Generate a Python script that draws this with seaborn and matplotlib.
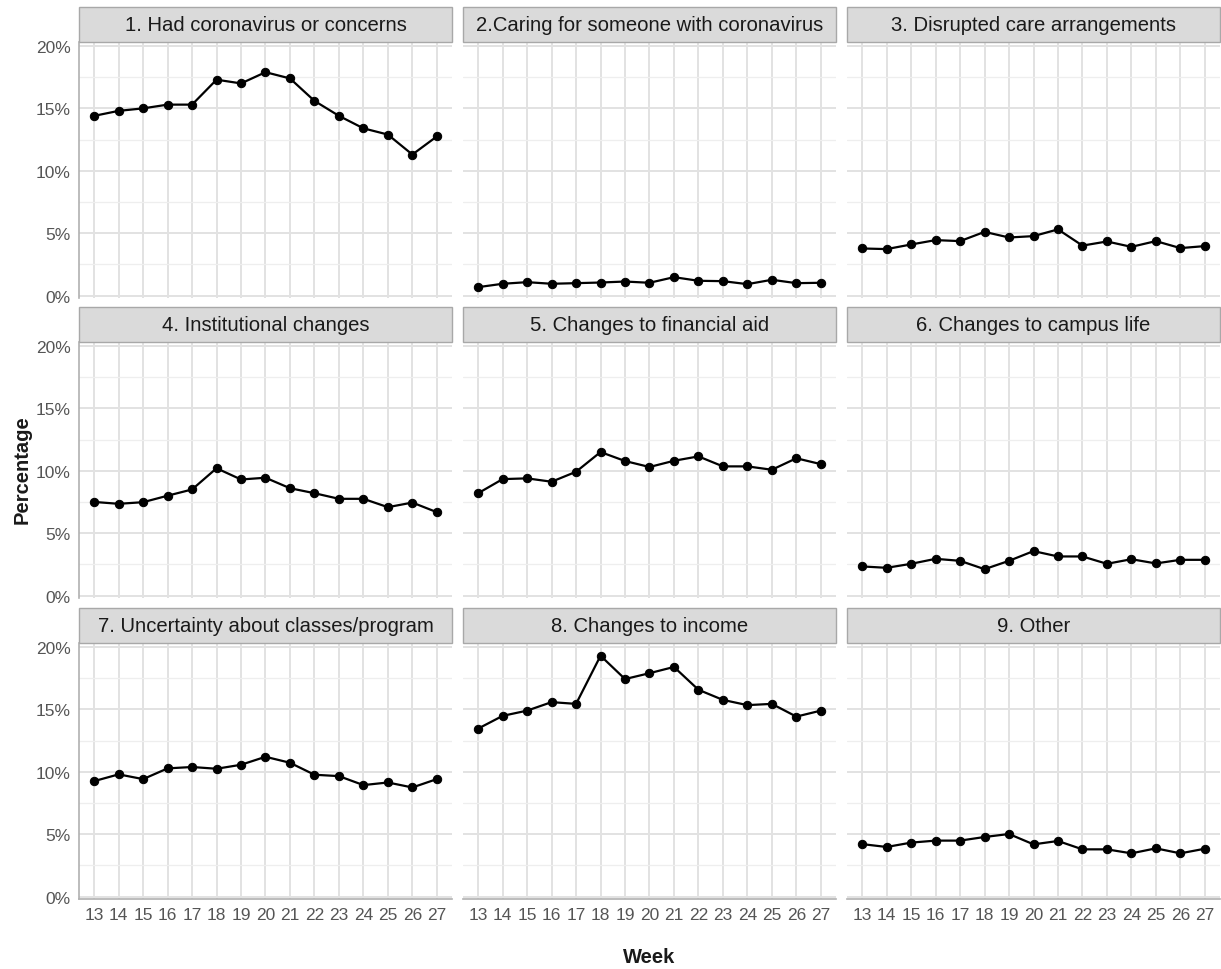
import matplotlib
matplotlib.use("Agg")
import matplotlib.pyplot as plt
from matplotlib.patches import Rectangle
from matplotlib.ticker import FuncFormatter, MultipleLocator
import numpy as np
import pandas as pd
import seaborn as sns

weeks = list(range(13, 28))

categories = [
    "1. Had coronavirus or concerns",
    "2.Caring for someone with coronavirus",
    "3. Disrupted care arrangements",
    "4. Institutional changes",
    "5. Changes to financial aid",
    "6. Changes to campus life",
    "7. Uncertainty about classes/program",
    "8. Changes to income",
    "9. Other",
]

had_coronavirus = [14.4, 14.8, 15.0, 15.3, 15.3, 17.3, 17.0, 17.9, 17.4, 15.6, 14.4, 13.4, 12.9, 11.3, 12.75]
caring = [0.67, 0.94, 1.07, 0.94, 0.99, 1.04, 1.12, 1.02, 1.47, 1.18, 1.15, 0.91, 1.26, 0.99, 1.02]
care_arrangements = [3.77, 3.72, 4.09, 4.44, 4.36, 5.1, 4.65, 4.76, 5.3, 4.0, 4.33, 3.9, 4.36, 3.8, 3.96]
institutional = [7.5, 7.35, 7.48, 8.0, 8.5, 10.2, 9.3, 9.44, 8.6, 8.2, 7.75, 7.75, 7.08, 7.45, 6.68]
financial_aid = [8.2, 9.33, 9.39, 9.12, 9.92, 11.5, 10.78, 10.3, 10.8, 11.15, 10.35, 10.35, 10.08, 11.0, 10.53]
campus_life = [2.33, 2.22, 2.54, 2.94, 2.78, 2.11, 2.78, 3.56, 3.13, 3.13, 2.54, 2.91, 2.57, 2.86, 2.86]
uncertainty = [9.25, 9.79, 9.41, 10.27, 10.38, 10.24, 10.56, 11.2, 10.72, 9.76, 9.65, 8.93, 9.14, 8.74, 9.41]
income = [13.46, 14.48, 14.9, 15.58, 15.44, 19.3, 17.43, 17.9, 18.4, 16.57, 15.76, 15.34, 15.44, 14.42, 14.9]
other = [4.2, 3.97, 4.32, 4.48, 4.48, 4.77, 5.01, 4.18, 4.45, 3.78, 3.78, 3.46, 3.86, 3.46, 3.83]

series = [had_coronavirus, caring, care_arrangements, institutional, financial_aid,
          campus_life, uncertainty, income, other]

df = pd.DataFrame({
    "Week": weeks * len(categories),
    "Percentage": [v for s in series for v in s],
    "Category": [c for c in categories for _ in weeks],
})

sns.set_theme(style="white")
plt.rcParams["font.family"] = ["Liberation Sans", "DejaVu Sans"]

W, H = 1221, 970
fig = plt.figure(figsize=(W / 100, H / 100), dpi=100)

col_left = [79, 463, 847]
panel_w = 373
row_top = [43, 343, 644]
panel_h = 256
strip_h = 35

grid_major = "#e2e2e2"
grid_minor = "#eeeeee"

for i, cat in enumerate(categories):
    r, c = divmod(i, 3)
    left = col_left[c] / W
    bottom = 1 - (row_top[r] + panel_h) / H
    ax = fig.add_axes([left, bottom, panel_w / W, panel_h / H])
    sub = df[df["Category"] == cat]
    sns.lineplot(data=sub, x="Week", y="Percentage", ax=ax, color="black",
                 linewidth=1.6, marker="o", markersize=6,
                 markeredgecolor="black", zorder=5)
    ax.set_xlim(12.38, 27.62)
    ax.set_ylim(-0.2, 20.32)
    ax.xaxis.set_major_locator(MultipleLocator(1))
    ax.yaxis.set_major_locator(MultipleLocator(5))
    ax.yaxis.set_minor_locator(MultipleLocator(2.5))
    ax.grid(which="major", color=grid_major, linewidth=1.4)
    ax.grid(which="minor", axis="y", color=grid_minor, linewidth=0.9)
    ax.set_axisbelow(True)
    for s in ax.spines.values():
        s.set_visible(False)
    if c == 0:
        ax.spines["left"].set_visible(True)
        ax.spines["left"].set_color("#b0b0b0")
        ax.spines["left"].set_linewidth(1.2)
    if r == 2:
        ax.spines["bottom"].set_visible(True)
        ax.spines["bottom"].set_color("#b0b0b0")
        ax.spines["bottom"].set_linewidth(1.2)
    ax.yaxis.set_major_formatter(FuncFormatter(lambda v, p: f"{v:.0f}%"))
    ax.tick_params(axis="both", which="both", length=0, labelsize=12.5,
                   labelcolor="#555555")
    ax.tick_params(axis="y", pad=6)
    ax.tick_params(axis="x", pad=6)
    if c != 0:
        ax.tick_params(axis="y", labelleft=False)
    if r != 2:
        ax.tick_params(axis="x", labelbottom=False)
    ax.set_xlabel("")
    ax.set_ylabel("")

    # facet strip
    sx = col_left[c] / W
    sy = 1 - row_top[r] / H
    fig.patches.append(Rectangle((sx, sy), panel_w / W, strip_h / H,
                                 transform=fig.transFigure, facecolor="#dadada",
                                 edgecolor="#a8a8a8", linewidth=1.0, zorder=3))
    fig.text(sx + panel_w / (2 * W), sy + strip_h / (2 * H), cat,
             ha="center", va="center", fontsize=14.6, color="#1a1a1a", zorder=4)

fig.text(22 / W, 1 - 470 / H, "Percentage", rotation=90, ha="center", va="center",
         fontsize=14.5, fontweight="bold", color="#1a1a1a")
fig.text((col_left[1] + panel_w / 2) / W, 1 - 958 / H, "Week", ha="center",
         va="center", fontsize=14.5, fontweight="bold", color="#1a1a1a")

fig.savefig("out.png", dpi=100, facecolor="white")
